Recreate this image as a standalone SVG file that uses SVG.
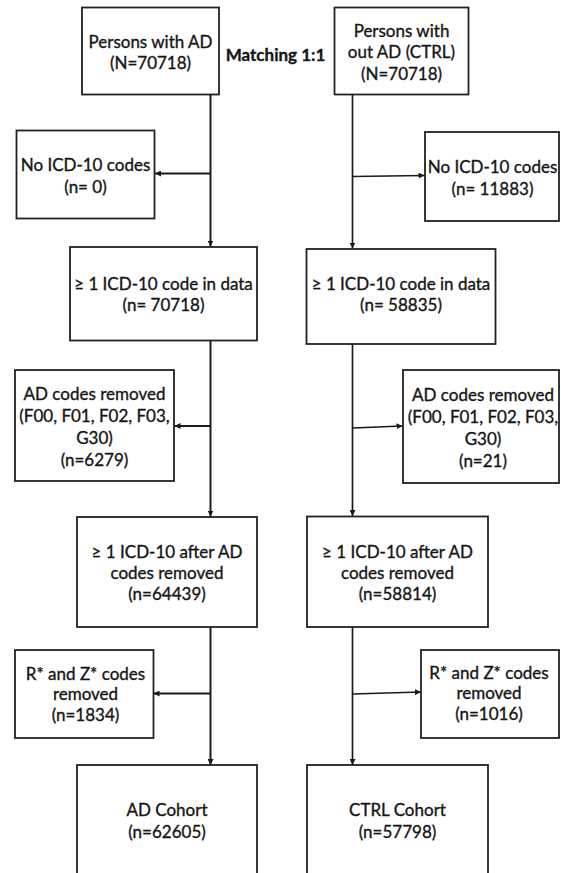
<svg xmlns="http://www.w3.org/2000/svg" width="561" height="873" viewBox="0 0 561 873">
  <defs>
    <marker id="arrow" viewBox="0 0 8 8" refX="8" refY="4" markerWidth="6" markerHeight="6" markerUnits="userSpaceOnUse" orient="auto">
      <path d="M0,0 L8,4 L0,8 Z" fill="#1a1a1a"/>
    </marker>
    <style>
      .box { fill: #ffffff; stroke: #222222; stroke-width: 1.8; }
      .lbl { font-family: Lato, "Liberation Sans", Arial, sans-serif; font-size: 17px; fill: #161616; stroke: #161616; stroke-width: 0.35; text-anchor: middle; }
      .bold { font-weight: bold; }
      .wire { fill: none; stroke: #1a1a1a; stroke-width: 2; }
      .wire-r { fill: none; stroke: #1a1a1a; stroke-width: 1.7; }
    </style>
  </defs>
  <rect width="561" height="873" fill="#ffffff"/>

  <!-- connectors -->
  <g id="connectors">
    <!-- AD branch -->
    <line class="wire" x1="210.5" y1="94" x2="210.5" y2="246.5" marker-end="url(#arrow)"/>
    <line class="wire" x1="210.5" y1="173.5" x2="155" y2="173.5" marker-end="url(#arrow)"/>
    <line class="wire" x1="210.5" y1="340.5" x2="210.5" y2="516.5" marker-end="url(#arrow)"/>
    <line class="wire" x1="210.5" y1="426" x2="174.5" y2="426" marker-end="url(#arrow)"/>
    <line class="wire" x1="210.5" y1="626.5" x2="210.5" y2="765" marker-end="url(#arrow)"/>
    <line class="wire" x1="210.5" y1="693.5" x2="153.5" y2="693.5" marker-end="url(#arrow)"/>
    <!-- CTRL branch -->
    <line class="wire-r" x1="352.5" y1="94" x2="352.5" y2="248.5" marker-end="url(#arrow)"/>
    <line class="wire-r" x1="352.5" y1="176.5" x2="424.5" y2="175.5" marker-end="url(#arrow)"/>
    <line class="wire-r" x1="352.5" y1="344" x2="352.5" y2="516" marker-end="url(#arrow)"/>
    <line class="wire-r" x1="352.5" y1="428" x2="402.5" y2="426" marker-end="url(#arrow)"/>
    <line class="wire-r" x1="352.5" y1="626.5" x2="352.5" y2="765" marker-end="url(#arrow)"/>
    <line class="wire-r" x1="352.5" y1="694" x2="421" y2="692" marker-end="url(#arrow)"/>
  </g>

  <!-- top row -->
  <g id="ad-start">
    <rect class="box" x="82" y="7.5" width="137" height="87"/>
    <text class="lbl" x="150.5" y="47.5">Persons with AD</text>
    <text class="lbl" x="150.5" y="69">(N=70718)</text>
  </g>
  <g id="matching">
    <text class="lbl bold" x="275.5" y="61">Matching 1:1</text>
  </g>
  <g id="ctrl-start">
    <rect class="box" x="334.5" y="7.5" width="134" height="87"/>
    <text class="lbl" x="401.5" y="36.5">Persons with</text>
    <text class="lbl" x="401.5" y="58">out AD (CTRL)</text>
    <text class="lbl" x="401.5" y="79.5">(N=70718)</text>
  </g>

  <!-- no ICD-10 codes -->
  <g id="ad-no-icd">
    <rect class="box" x="16.5" y="130.5" width="138" height="88"/>
    <text class="lbl" x="85.5" y="171">No ICD-10 codes</text>
    <text class="lbl" x="85.5" y="193">(n= 0)</text>
  </g>
  <g id="ctrl-no-icd">
    <rect class="box" x="425" y="132" width="134" height="89"/>
    <text class="lbl" x="492.5" y="173">No ICD-10 codes</text>
    <text class="lbl" x="492.5" y="195">(n= 11883)</text>
  </g>

  <!-- at least one code -->
  <g id="ad-has-icd">
    <rect class="box" x="70" y="247" width="187" height="93.5"/>
    <text class="lbl" x="163.5" y="289.5">≥ 1 ICD-10 code in data</text>
    <text class="lbl" x="163.5" y="311">(n= 70718)</text>
  </g>
  <g id="ctrl-has-icd">
    <rect class="box" x="306.5" y="249" width="189" height="95"/>
    <text class="lbl" x="401" y="289.5">≥ 1 ICD-10 code in data</text>
    <text class="lbl" x="401" y="311">(n= 58835)</text>
  </g>

  <!-- AD codes removed -->
  <g id="ad-ad-codes">
    <rect class="box" x="15" y="370" width="159" height="111"/>
    <text class="lbl" x="94.5" y="399.5">AD codes removed</text>
    <text class="lbl" x="94.5" y="421.5">(F00, F01, F02, F03,</text>
    <text class="lbl" x="94.5" y="444">G30)</text>
    <text class="lbl" x="94.5" y="466">(n=6279)</text>
  </g>
  <g id="ctrl-ad-codes">
    <rect class="box" x="403" y="370" width="156" height="113"/>
    <text class="lbl" x="483" y="401">AD codes removed</text>
    <text class="lbl" x="483" y="423">(F00, F01, F02, F03,</text>
    <text class="lbl" x="483" y="444.5">G30)</text>
    <text class="lbl" x="483" y="466.5">(n=21)</text>
  </g>

  <!-- after AD codes removed -->
  <g id="ad-after">
    <rect class="box" x="77" y="517" width="180" height="110"/>
    <text class="lbl" x="167" y="558">≥ 1 ICD-10 after AD</text>
    <text class="lbl" x="167" y="579">codes removed</text>
    <text class="lbl" x="167" y="599.5">(n=64439)</text>
  </g>
  <g id="ctrl-after">
    <rect class="box" x="307" y="516.5" width="181" height="110.5"/>
    <text class="lbl" x="397.5" y="558">≥ 1 ICD-10 after AD</text>
    <text class="lbl" x="397.5" y="579">codes removed</text>
    <text class="lbl" x="397.5" y="599.5">(n=58814)</text>
  </g>

  <!-- R* and Z* codes removed -->
  <g id="ad-rz">
    <rect class="box" x="15" y="650" width="138.5" height="88"/>
    <text class="lbl" x="85.5" y="679.5">R* and Z* codes</text>
    <text class="lbl" x="85.5" y="700">removed</text>
    <text class="lbl" x="85.5" y="720.5">(n=1834)</text>
  </g>
  <g id="ctrl-rz">
    <rect class="box" x="421" y="650" width="138" height="88"/>
    <text class="lbl" x="489" y="678.5">R* and Z* codes</text>
    <text class="lbl" x="489" y="699">removed</text>
    <text class="lbl" x="489" y="719.5">(n=1016)</text>
  </g>

  <!-- final cohorts -->
  <g id="ad-cohort">
    <rect class="box" x="77" y="765" width="180" height="120"/>
    <text class="lbl" x="167" y="816">AD Cohort</text>
    <text class="lbl" x="167" y="838">(n=62605)</text>
  </g>
  <g id="ctrl-cohort">
    <rect class="box" x="307" y="765" width="181" height="120"/>
    <text class="lbl" x="397.5" y="816">CTRL Cohort</text>
    <text class="lbl" x="397.5" y="838">(n=57798)</text>
  </g>
</svg>
